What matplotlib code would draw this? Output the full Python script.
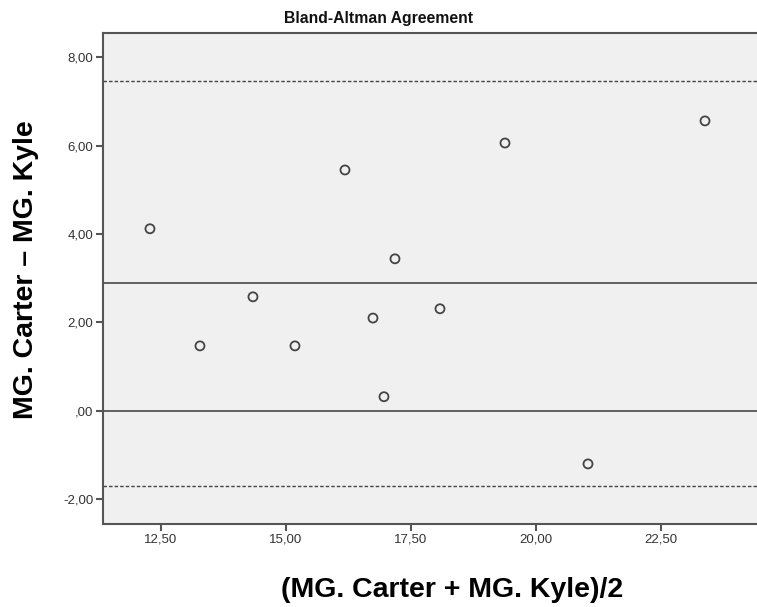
import matplotlib

matplotlib.use("Agg")
import matplotlib.pyplot as plt
import numpy as np
from matplotlib.ticker import FuncFormatter

plt.rcParams["font.family"] = ["Liberation Sans", "DejaVu Sans"]

# Bland-Altman data
mean_xy = [12.28, 13.28, 14.34, 15.18, 16.18, 16.74, 16.96, 17.18, 18.08, 19.38, 21.04, 23.38]
diff_xy = [4.12, 1.47, 2.58, 1.47, 5.45, 2.10, 0.32, 3.44, 2.31, 6.06, -1.20, 6.56]

bias = np.mean(diff_xy)
loa_hi = 7.46
loa_lo = -1.70

x_ticks = [12.5, 15.0, 17.5, 20.0, 22.5]
y_ticks = [-2.0, 0.0, 2.0, 4.0, 6.0, 8.0]


def comma_fmt(v, _pos):
    s = f"{v:.2f}".replace(".", ",")
    if s.startswith("0,"):
        s = s[1:]
    return s


fig = plt.figure(figsize=(7.57, 6.07), dpi=100)
ax = fig.add_axes([0.136, 0.1367, 0.866, 0.809])
ax.set_facecolor("#f0f0f0")

ax.axhline(bias, color="#555555", lw=1.3)
ax.axhline(0, color="#555555", lw=1.3)
ax.axhline(loa_hi, color="#444444", lw=1.0, ls=(0, (2.5, 1.5)))
ax.axhline(loa_lo, color="#444444", lw=1.0, ls=(0, (2.5, 1.5)))

ax.scatter(mean_xy, diff_xy, s=42, facecolors="none", edgecolors="#444444",
           linewidths=1.3, zorder=3)

ax.set_xlim(11.34, 24.45)
ax.set_ylim(-2.56, 8.55)
ax.set_xticks(x_ticks)
ax.set_yticks(y_ticks)
ax.xaxis.set_major_formatter(FuncFormatter(comma_fmt))
ax.yaxis.set_major_formatter(FuncFormatter(comma_fmt))
ax.tick_params(axis="both", direction="out", length=5, width=1.5,
               color="#555555", labelsize=9.5, labelcolor="#333333", pad=2)
for sp in ax.spines.values():
    sp.set_color("#555555")
    sp.set_linewidth(1.5)
ax.spines["right"].set_visible(False)

fig.text(0.5, 0.970, "Bland-Altman Agreement", ha="center", va="center",
         fontsize=11.3, fontweight="bold", color="#111111")
fig.text(0.597, 0.028, "(MG. Carter + MG. Kyle)/2", ha="center", va="center",
         fontsize=20.5, fontweight="bold")
fig.text(0.034, 0.555, "MG. Carter \u2013 MG. Kyle", ha="center", va="center",
         rotation=90, fontsize=20.5, fontweight="bold")

fig.savefig("out.png", dpi=100)
